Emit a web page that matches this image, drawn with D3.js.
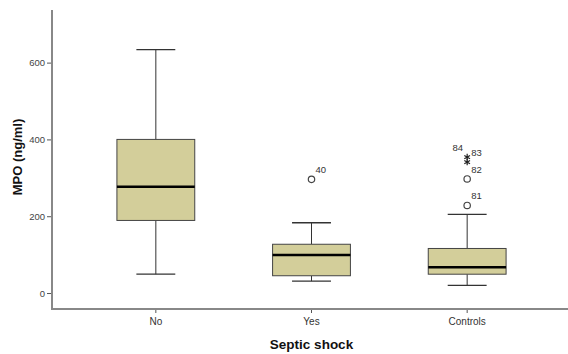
<!DOCTYPE html>
<html><head><meta charset="utf-8">
<script src="https://cdn.jsdelivr.net/npm/d3@7"></script>
<style>body{margin:0;background:#fff;}svg{display:block;}</style>
</head><body>
<svg id="c" width="568" height="354"></svg>
<script>
const categories = ["No", "Yes", "Controls"];
const whiskerLow = [49, 31, 20];
const q1 = [189, 45, 49];
const median = [277, 99, 67];
const q3 = [400, 127, 116];
const whiskerHigh = [634, 183, 205];
// outliers: [categoryIndex, value, label, type]
const outlierCat = [1, 2, 2, 2, 2];
const outlierVal = [296, 228, 297, 341, 354];
const outlierLab = ["40", "81", "82", "83", "84"];
const outlierType = ["o", "o", "o", "*", "*"];
const yTicks = [0, 200, 400, 600];

const svg = d3.select("#c");
const y = d3.scaleLinear().domain([-39, 737]).range([308, 10]);
const x = d3.scaleBand().domain(categories).range([78, 545]);
const bw = x.bandwidth();
const cx = c => x(c) + bw / 2;
const FF = "Liberation Sans, Arial, sans-serif";

// y axis
const yAxis = svg.append("g").attr("transform", "translate(52,0)")
  .call(d3.axisLeft(y).tickValues(yTicks).tickSize(5).tickPadding(2).tickSizeOuter(0));
yAxis.select(".domain").remove();
yAxis.selectAll(".tick line").attr("stroke", "#555");
yAxis.selectAll("text").attr("fill", "#444").style("font-family", FF).style("font-size", "9.5px");
svg.append("line").attr("x1", 52).attr("x2", 52).attr("y1", y(737)).attr("y2", 310)
  .attr("stroke", "#888").attr("stroke-width", 2);

// x axis
const xAxis = svg.append("g").attr("transform", "translate(0,309)")
  .call(d3.axisBottom(x).tickSize(4).tickPadding(5).tickSizeOuter(0));
xAxis.select(".domain").remove();
xAxis.selectAll(".tick line").attr("stroke", "#555");
xAxis.selectAll("text").attr("fill", "#333").style("font-family", FF).style("font-size", "10px");
svg.append("line").attr("x1", 51).attr("x2", 568).attr("y1", 309).attr("y2", 309)
  .attr("stroke", "#888").attr("stroke-width", 2);

// titles
svg.append("text").attr("x", cx("Yes")).attr("y", 349).attr("text-anchor", "middle")
  .style("font-family", FF).style("font-size", "13.5px").style("font-weight", "bold")
  .attr("fill", "#111").text("Septic shock");
svg.append("text").attr("transform", `translate(22,157) rotate(-90)`).attr("text-anchor", "middle")
  .style("font-family", FF).style("font-size", "13px").style("font-weight", "bold")
  .attr("fill", "#111").text("MPO (ng/ml)");

// boxes
const boxW = bw * 0.5, capW = bw * 0.25;
categories.forEach((c, i) => {
  const g = svg.append("g");
  const m = cx(c);
  g.append("line").attr("x1", m).attr("x2", m).attr("y1", y(whiskerHigh[i])).attr("y2", y(q3[i])).attr("stroke", "#333");
  g.append("line").attr("x1", m).attr("x2", m).attr("y1", y(q1[i])).attr("y2", y(whiskerLow[i])).attr("stroke", "#333");
  g.append("line").attr("x1", m - capW / 2).attr("x2", m + capW / 2).attr("y1", y(whiskerHigh[i])).attr("y2", y(whiskerHigh[i])).attr("stroke", "#333").attr("stroke-width", 1.3);
  g.append("line").attr("x1", m - capW / 2).attr("x2", m + capW / 2).attr("y1", y(whiskerLow[i])).attr("y2", y(whiskerLow[i])).attr("stroke", "#333").attr("stroke-width", 1.3);
  g.append("rect").attr("x", m - boxW / 2).attr("width", boxW).attr("y", y(q3[i])).attr("height", y(q1[i]) - y(q3[i]))
    .attr("fill", "#d3ce9a").attr("stroke", "#444").attr("stroke-width", 1);
  g.append("line").attr("x1", m - boxW / 2).attr("x2", m + boxW / 2).attr("y1", y(median[i])).attr("y2", y(median[i])).attr("stroke", "#000").attr("stroke-width", 2.5);
});

// outliers
outlierVal.forEach((v, k) => {
  const m = cx(categories[outlierCat[k]]);
  const py = y(v);
  if (outlierType[k] === "o") {
    svg.append("circle").attr("cx", m).attr("cy", py).attr("r", 3.2).attr("fill", "#fff").attr("stroke", "#444").attr("stroke-width", 1.2);
  } else {
    svg.append("path").attr("d", d3.symbol(d3.symbolAsterisk, 30)()).attr("transform", `translate(${m},${py})`)
      .attr("stroke", "#222").attr("stroke-width", 1.2).attr("fill", "none");
  }
  const left = outlierLab[k] === "84";
  svg.append("text").attr("x", left ? m - 4 : m + 4).attr("y", py - 6).attr("text-anchor", left ? "end" : "start")
    .style("font-family", FF).style("font-size", "9.5px").attr("fill", "#333").text(outlierLab[k]);
});
</script>
</body></html>
